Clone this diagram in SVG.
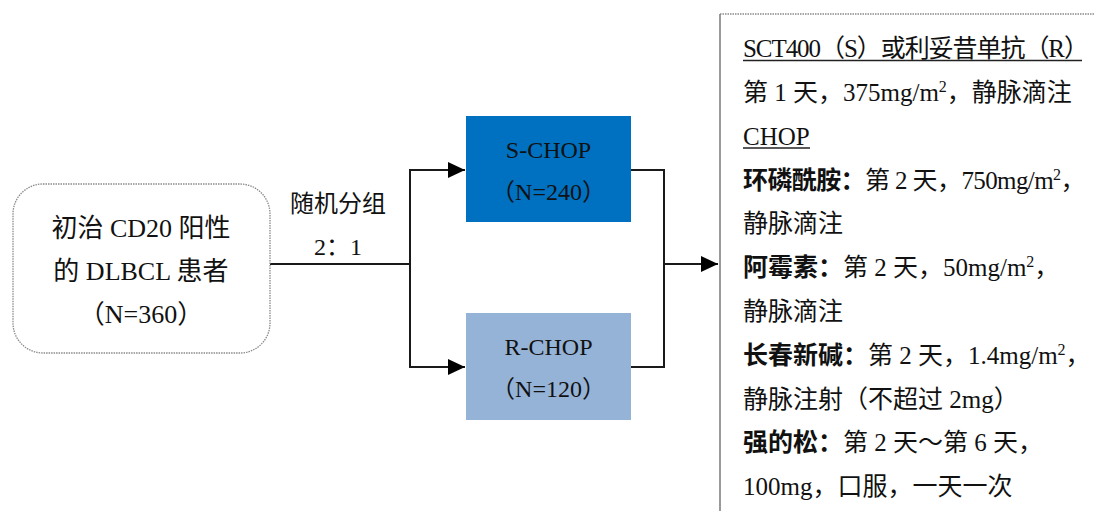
<svg xmlns="http://www.w3.org/2000/svg" width="1094" height="511" viewBox="0 0 1094 511">
  <style>
    text { font-family: "Liberation Serif", "Noto Sans CJK SC", serif; fill: #111; }
    .c { text-anchor: middle; }
    .l { font-size: 24px; }
    .p { font-size: 25px; }
    .b { font-weight: bold; }
    .sup { font-size: 16px; }
    .conn { fill: none; stroke: #1a1a1a; stroke-width: 2; }
  </style>
  <defs>
    <marker id="arr" markerUnits="userSpaceOnUse" markerWidth="18" markerHeight="16" refX="17" refY="8" orient="auto">
      <path d="M0,0 L17,8 L0,16 z" fill="#000"/>
    </marker>
  </defs>
  <rect width="1094" height="511" fill="#fff"/>

  <g id="connectors">
    <line class="conn" x1="270" y1="264" x2="410" y2="264"/>
    <line class="conn" x1="410" y1="169" x2="410" y2="368"/>
    <line class="conn" x1="410" y1="170" x2="465" y2="170" marker-end="url(#arr)"/>
    <line class="conn" x1="410" y1="367" x2="465" y2="367" marker-end="url(#arr)"/>
    <path class="conn" d="M631,170 L664,170 L664,367 L631,367"/>
    <line class="conn" x1="664" y1="264" x2="718" y2="264" marker-end="url(#arr)"/>
  </g>

  <g id="patients">
    <rect x="13" y="184" width="257" height="169" rx="30" ry="30" fill="#fff" stroke="#8a8a8a" stroke-width="1.3" stroke-dasharray="1.5 1"/>
    <text class="c" x="141" y="237" font-size="26">初治 CD20 阳性</text>
    <text class="c" x="141" y="280" font-size="26">的 DLBCL 患者</text>
    <text class="c" x="141" y="323" font-size="26">（N=360）</text>
  </g>

  <g id="randomize">
    <text class="c l" x="338" y="212">随机分组</text>
    <text class="c l" x="338" y="255">2：1</text>
  </g>

  <g id="s-chop">
    <rect x="466" y="116" width="165" height="106" fill="#0070C0"/>
    <text class="c l" x="548.5" y="158">S-CHOP</text>
    <text class="c l" x="548.5" y="200">（N=240）</text>
  </g>

  <g id="r-chop">
    <rect x="466" y="313" width="165" height="107" fill="#95B3D7"/>
    <text class="c l" x="548.5" y="355">R-CHOP</text>
    <text class="c l" x="548.5" y="397">（N=120）</text>
  </g>

  <g id="regimen">
    <line x1="720" y1="14" x2="720" y2="511" stroke="#9a9a9a" stroke-width="2"/>
    <line x1="720" y1="14" x2="1094" y2="14" stroke="#8a8a8a" stroke-width="1.3" stroke-dasharray="1.5 1"/>
    <text class="p" x="743" y="57" textLength="346" lengthAdjust="spacing">SCT400（S）或利妥昔单抗（R）</text>
    <line x1="743" y1="60.5" x2="1082" y2="60.5" stroke="#222" stroke-width="1.3"/>
    <text class="p" x="743" y="101">第 1 天，375mg/m<tspan class="sup" dy="-9">2</tspan><tspan dy="9">，静脉滴注</tspan></text>
    <text class="p" x="743" y="144.5">CHOP</text>
    <line x1="743" y1="148" x2="810" y2="148" stroke="#222" stroke-width="1.3"/>
    <text class="p" x="743" y="188.5" letter-spacing="-0.6"><tspan class="b">环磷酰胺：</tspan>第 2 天，750mg/m<tspan class="sup" dy="-9">2</tspan><tspan dy="9">，</tspan></text>
    <text class="p" x="743" y="232">静脉滴注</text>
    <text class="p" x="743" y="276"><tspan class="b">阿霉素：</tspan>第 2 天，50mg/m<tspan class="sup" dy="-9">2</tspan><tspan dy="9">，</tspan></text>
    <text class="p" x="743" y="320">静脉滴注</text>
    <text class="p" x="743" y="363.5"><tspan class="b">长春新碱：</tspan>第 2 天，1.4mg/m<tspan class="sup" dy="-9">2</tspan><tspan dy="9">，</tspan></text>
    <text class="p" x="743" y="407.5">静脉注射（不超过 2mg）</text>
    <text class="p" x="743" y="451"><tspan class="b">强的松：</tspan>第 2 天～第 6 天，</text>
    <text class="p" x="743" y="495">100mg，口服，一天一次</text>
  </g>
</svg>
